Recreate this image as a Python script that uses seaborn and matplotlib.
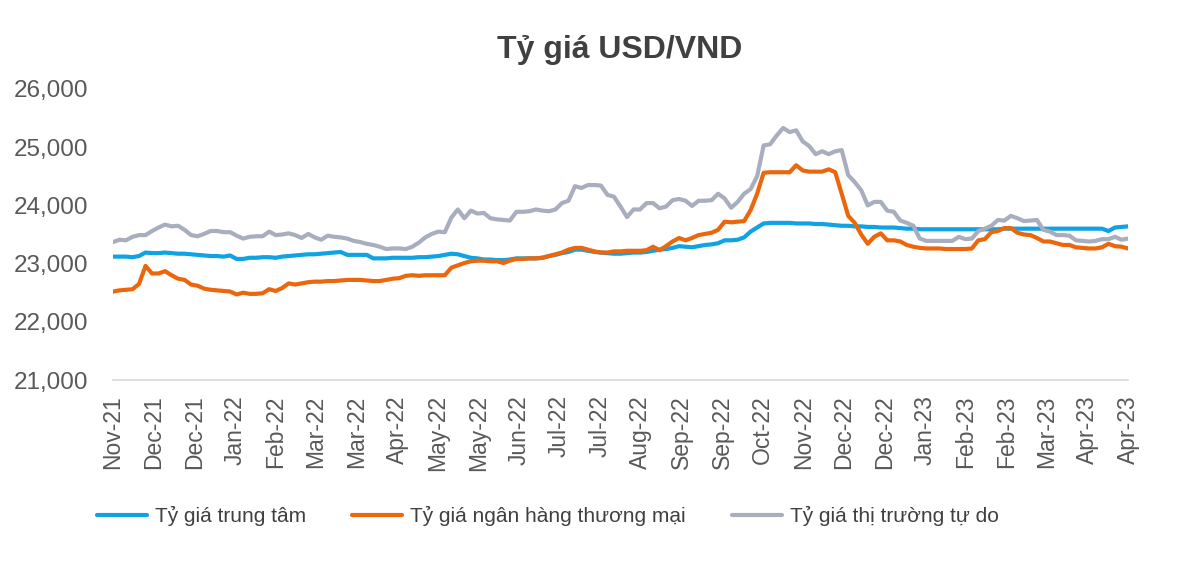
import matplotlib
matplotlib.use("Agg")
import matplotlib.pyplot as plt
import seaborn as sns
import pandas as pd
import numpy as np

tick_labels = ["Nov-21", "Dec-21", "Dec-21", "Jan-22", "Feb-22", "Mar-22", "Mar-22",
               "Apr-22", "May-22", "May-22", "Jun-22", "Jul-22", "Jul-22", "Aug-22", "Sep-22",
               "Sep-22", "Oct-22", "Nov-22", "Dec-22", "Dec-22", "Jan-23", "Feb-23", "Feb-23",
               "Mar-23", "Apr-23", "Apr-23"]

central_rate = [
    23120, 23120, 23120, 23110, 23130, 23190, 23180, 23180, 23190, 23180,
    23170, 23170, 23160, 23150, 23140, 23130, 23130, 23120, 23140, 23080,
    23080, 23100, 23100, 23110, 23110, 23100, 23120, 23130, 23140, 23150,
    23160, 23160, 23170, 23180, 23190, 23200, 23150, 23150, 23150, 23150,
    23090, 23090, 23090, 23100, 23100, 23100, 23100, 23110, 23110, 23120,
    23130, 23150, 23170, 23160, 23130, 23100, 23090, 23070, 23070, 23060,
    23060, 23070, 23090, 23090, 23090, 23090, 23100, 23130, 23150, 23180,
    23200, 23240, 23240, 23220, 23200, 23190, 23180, 23170, 23170, 23180,
    23190, 23190, 23200, 23220, 23240, 23250, 23270, 23300, 23290, 23280,
    23300, 23320, 23330, 23350, 23400, 23400, 23410, 23450, 23550, 23620,
    23690, 23700, 23700, 23700, 23700, 23690, 23690, 23690, 23680, 23680,
    23670, 23660, 23650, 23650, 23640, 23640, 23630, 23630, 23620, 23620,
    23620, 23610, 23600, 23600, 23590, 23590, 23590, 23590, 23590, 23590,
    23590, 23590, 23590, 23590, 23590, 23590, 23590, 23600, 23600, 23600,
    23600, 23600, 23600, 23600, 23600, 23600, 23600, 23600, 23600, 23600,
    23600, 23600, 23600, 23560, 23620, 23630, 23640]

bank_rate = [
    22520, 22540, 22550, 22560, 22650, 22960, 22830, 22830, 22870, 22800,
    22740, 22720, 22640, 22620, 22570, 22550, 22540, 22530, 22520, 22470,
    22500, 22480, 22480, 22490, 22560, 22530, 22580, 22660, 22640, 22660,
    22680, 22690, 22690, 22700, 22700, 22710, 22720, 22720, 22720, 22710,
    22700, 22700, 22720, 22740, 22750, 22790, 22800, 22790, 22800, 22800,
    22800, 22800, 22930, 22970, 23010, 23040, 23050, 23050, 23040, 23040,
    23010, 23050, 23080, 23080, 23090, 23090, 23100, 23130, 23160, 23190,
    23240, 23270, 23270, 23240, 23210, 23190, 23190, 23210, 23210, 23220,
    23220, 23220, 23230, 23290, 23230, 23300, 23380, 23440, 23400, 23440,
    23490, 23510, 23530, 23580, 23720, 23710, 23720, 23730, 23920, 24200,
    24560, 24570, 24570, 24570, 24570, 24690, 24600, 24580, 24580, 24580,
    24620, 24570, 24200, 23820, 23700, 23500, 23340, 23460, 23520, 23400,
    23400, 23380, 23320, 23290, 23270, 23260, 23260, 23260, 23250, 23250,
    23250, 23250, 23260, 23400, 23420, 23540, 23560, 23610, 23610, 23530,
    23500, 23490, 23440, 23380, 23380, 23350, 23320, 23320, 23280, 23270,
    23260, 23260, 23280, 23340, 23300, 23290, 23260]

free_rate = [
    23370, 23410, 23400, 23460, 23490, 23490, 23560, 23620, 23670, 23640,
    23650, 23580, 23490, 23470, 23510, 23560, 23560, 23540, 23540, 23480,
    23430, 23460, 23470, 23470, 23550, 23490, 23500, 23520, 23490, 23440,
    23510, 23450, 23410, 23480, 23460, 23450, 23430, 23390, 23370, 23340,
    23320, 23290, 23250, 23260, 23260, 23250, 23290, 23360, 23450, 23510,
    23550, 23540, 23790, 23930, 23780, 23910, 23860, 23870, 23780, 23760,
    23750, 23740, 23890, 23890, 23900, 23930, 23910, 23900, 23930, 24040,
    24080, 24330, 24300, 24350, 24350, 24340, 24180, 24150, 23980, 23800,
    23930, 23930, 24040, 24040, 23950, 23980, 24090, 24110, 24080, 23990,
    24080, 24080, 24090, 24200, 24120, 23960, 24060, 24200, 24280, 24500,
    25030, 25050, 25200, 25330, 25260, 25290, 25100, 25020, 24880, 24930,
    24880, 24930, 24950, 24520, 24400, 24260, 24000, 24060, 24060, 23910,
    23890, 23740, 23700, 23650, 23430, 23390, 23390, 23390, 23390, 23390,
    23460, 23420, 23430, 23560, 23600, 23650, 23750, 23740, 23820, 23780,
    23730, 23740, 23750, 23580, 23550, 23490, 23490, 23480, 23400, 23390,
    23380, 23390, 23420, 23420, 23460, 23410, 23430]

series_names = ["Tỷ giá trung tâm", "Tỷ giá ngân hàng thương mại", "Tỷ giá thị trường tự do"]
colors = ["#0FA3E3", "#EC670B", "#A8AEBE"]

n = len(central_rate)
idx = np.arange(n)
df = pd.concat([
    pd.DataFrame({"i": idx, "v": central_rate, "s": series_names[0]}),
    pd.DataFrame({"i": idx, "v": bank_rate, "s": series_names[1]}),
    pd.DataFrame({"i": idx, "v": free_rate, "s": series_names[2]}),
])

sns.set_theme(style="white")
plt.rcParams['font.family'] = ['Liberation Sans', 'DejaVu Sans']

fig = plt.figure(figsize=(11.86, 5.62), dpi=100)
ax = fig.add_axes([113/1186, 1-380/562, (1128-113)/1186, (380-89)/562])

sns.lineplot(data=df, x="i", y="v", hue="s", palette=dict(zip(series_names, colors)),
             linewidth=3, ax=ax, hue_order=series_names)

ax.set_xlim(0, n - 1)
ax.set_ylim(21000, 26000)
yt = [21000, 22000, 23000, 24000, 25000, 26000]
ax.set_yticks(yt)
ax.set_yticklabels([f"{v:,}" for v in yt])
step = (n - 1) / (len(tick_labels) - 1)
ax.set_xticks([k * step for k in range(len(tick_labels))])
ax.set_xticklabels(tick_labels, rotation=90)
ax.tick_params(axis="y", length=0, pad=18, labelsize=17.5, labelcolor="#595959")
ax.tick_params(axis="x", length=0, pad=11, labelsize=16.5, labelcolor="#595959")
ax.set_xlabel("")
ax.set_ylabel("")
for sp in ["top", "right", "left"]:
    ax.spines[sp].set_visible(False)
ax.spines["bottom"].set_color("#D9D9D9")
ax.spines["bottom"].set_linewidth(1.2)

handles, labels = ax.get_legend_handles_labels()
ax.get_legend().remove()
fig.legend(handles, labels, loc="center", bbox_to_anchor=(548/1186, 1-516/562), ncol=3,
           frameon=False, fontsize=15, handlelength=2.4, handletextpad=0.4,
           columnspacing=2.2, labelcolor="#404040")

fig.text(620/1186, 1-50/562, "Tỷ giá USD/VND", ha="center", va="center",
         fontsize=23, fontweight="bold", color="#404040")

fig.savefig("out.png", dpi=100)
